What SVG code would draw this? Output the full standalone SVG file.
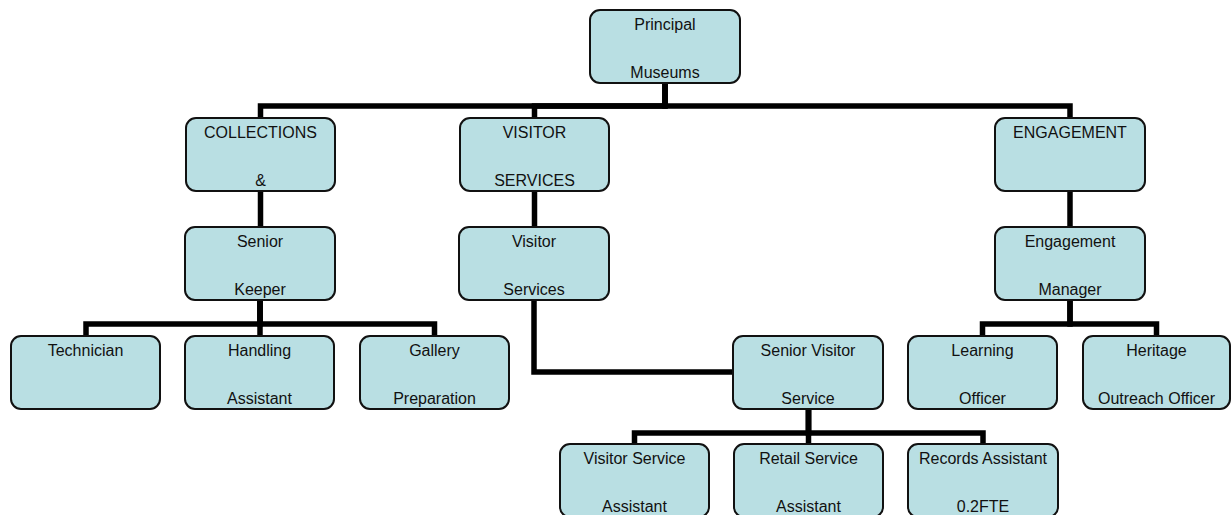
<svg xmlns="http://www.w3.org/2000/svg" width="1231" height="515" viewBox="0 0 1231 515">
<style>
.box{fill:#b9dfe3;stroke:#111;stroke-width:2}
.t{font-family:"Liberation Sans",Arial,sans-serif;font-size:16px;fill:#111;text-anchor:middle}
.c{fill:none;stroke:#000;stroke-width:5.5;stroke-linejoin:miter}
</style>
<rect width="1231" height="515" fill="#fff"/>
<g id="connectors">
<path class="c" d="M665,83 V106 H260.5 V118"/>
<path class="c" d="M665,83 V106 H534.5 V118"/>
<path class="c" d="M665,83 V106 H1070 V118"/>
<path class="c" d="M260.5,191 V227"/>
<path class="c" d="M534.5,191 V227"/>
<path class="c" d="M1070,191 V227"/>
<path class="c" d="M260,300 V324 H86 V336"/>
<path class="c" d="M260,300 V336"/>
<path class="c" d="M260,300 V324 H434.5 V336"/>
<path class="c" d="M534,300 V372 H733"/>
<path class="c" d="M1070,300 V324 H982.5 V336"/>
<path class="c" d="M1070,300 V324 H1156.5 V336"/>
<path class="c" d="M808.5,409 V433 H634.5 V444"/>
<path class="c" d="M808.5,409 V444"/>
<path class="c" d="M808.5,409 V433 H983 V444"/>
</g>
<g id="principal"><rect class="box" x="590" y="10" width="150" height="73" rx="10"/><text class="t" x="665" y="30">Principal</text><text class="t" x="665" y="78">Museums</text></g>
<g id="collections"><rect class="box" x="186" y="118" width="149" height="73" rx="10"/><text class="t" x="260.5" y="138">COLLECTIONS</text><text class="t" x="260.5" y="186">&amp;</text></g>
<g id="visitor-services-dept"><rect class="box" x="460" y="118" width="149" height="73" rx="10"/><text class="t" x="534.5" y="138">VISITOR</text><text class="t" x="534.5" y="186">SERVICES</text></g>
<g id="engagement"><rect class="box" x="995" y="118" width="150" height="73" rx="10"/><text class="t" x="1070" y="138">ENGAGEMENT</text></g>
<g id="senior-keeper"><rect class="box" x="185" y="227" width="150" height="73" rx="10"/><text class="t" x="260" y="247">Senior</text><text class="t" x="260" y="295">Keeper</text></g>
<g id="visitor-services"><rect class="box" x="459" y="227" width="150" height="73" rx="10"/><text class="t" x="534" y="247">Visitor</text><text class="t" x="534" y="295">Services</text></g>
<g id="engagement-manager"><rect class="box" x="995" y="227" width="150" height="73" rx="10"/><text class="t" x="1070" y="247">Engagement</text><text class="t" x="1070" y="295">Manager</text></g>
<g id="technician"><rect class="box" x="11" y="336" width="149" height="73" rx="10"/><text class="t" x="85.5" y="356">Technician</text></g>
<g id="handling-assistant"><rect class="box" x="185" y="336" width="149" height="73" rx="10"/><text class="t" x="259.5" y="356">Handling</text><text class="t" x="259.5" y="404">Assistant</text></g>
<g id="gallery-preparation"><rect class="box" x="360" y="336" width="149" height="73" rx="10"/><text class="t" x="434.5" y="356">Gallery</text><text class="t" x="434.5" y="404">Preparation</text></g>
<g id="senior-visitor-service"><rect class="box" x="733" y="336" width="150" height="73" rx="10"/><text class="t" x="808" y="356">Senior Visitor</text><text class="t" x="808" y="404">Service</text></g>
<g id="learning-officer"><rect class="box" x="908" y="336" width="149" height="73" rx="10"/><text class="t" x="982.5" y="356">Learning</text><text class="t" x="982.5" y="404">Officer</text></g>
<g id="heritage-outreach-officer"><rect class="box" x="1083" y="336" width="147" height="73" rx="10"/><text class="t" x="1156.5" y="356">Heritage</text><text class="t" x="1156.5" y="404">Outreach Officer</text></g>
<g id="visitor-service-assistant"><rect class="box" x="560" y="444" width="149" height="73" rx="10"/><text class="t" x="634.5" y="464">Visitor Service</text><text class="t" x="634.5" y="512">Assistant</text></g>
<g id="retail-service-assistant"><rect class="box" x="734" y="444" width="149" height="73" rx="10"/><text class="t" x="808.5" y="464">Retail Service</text><text class="t" x="808.5" y="512">Assistant</text></g>
<g id="records-assistant"><rect class="box" x="908" y="444" width="150" height="73" rx="10"/><text class="t" x="983" y="464">Records Assistant</text><text class="t" x="983" y="512">0.2FTE</text></g>
</svg>
